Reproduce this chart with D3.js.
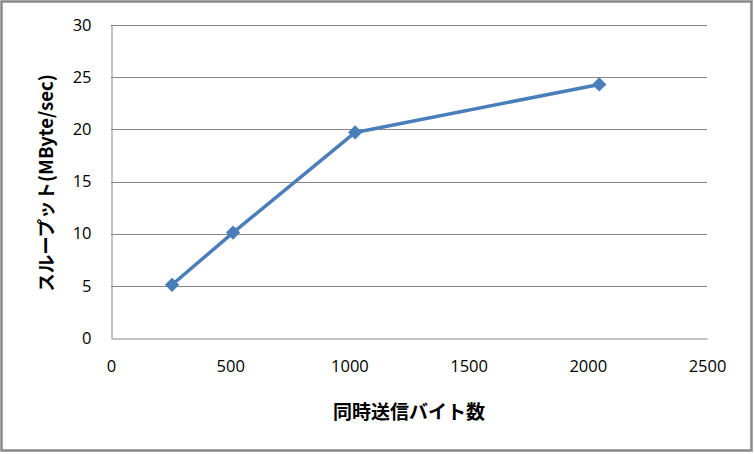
<!DOCTYPE html>
<html><head><meta charset="utf-8">
<script src="https://cdn.jsdelivr.net/npm/d3@7"></script>
<style>body{margin:0;background:#fff}svg{display:block}</style>
</head><body>
<script>
const xValues = [256, 512, 1024, 2048];
const yValues = [5.1, 10.1, 19.7, 24.3];
const xTicks = [0, 500, 1000, 1500, 2000, 2500];
const yTicks = [0, 5, 10, 15, 20, 25, 30];
const xTitle = "同時送信バイト数";
const yTitle = "スループット(MByte/sec)";

const W = 754, H = 454;
const m = {left: 111, right: 47, top: 25, bottom: 116};
const svg = d3.select("body").append("svg").attr("width", W).attr("height", H);
svg.append("rect").attr("x", 1.5).attr("y", 1.5).attr("width", 750).attr("height", 449)
  .attr("fill", "#fff").attr("stroke", "#888").attr("stroke-width", 2.5);

const x = d3.scaleLinear().domain([0, 2500]).range([m.left, W - m.right]);
const y = d3.scaleLinear().domain([0, 30]).range([H - m.bottom, m.top]);
const font = "'Open Sans', 'Noto Sans', sans-serif";

// gridlines
svg.append("g").selectAll("line").data(yTicks.filter(d => d > 0)).join("line")
  .attr("x1", x(0)).attr("x2", x(2500))
  .attr("y1", d => Math.round(y(d)) + 0.5).attr("y2", d => Math.round(y(d)) + 0.5)
  .attr("stroke", "#868686").attr("stroke-width", 1);

// axes
const yAxis = svg.append("g").attr("transform", `translate(${x(0)+0.5},0)`)
  .call(d3.axisLeft(y).tickValues(yTicks).tickFormat(d3.format("d")).tickSize(0).tickPadding(20));
const xAxis = svg.append("g").attr("transform", `translate(0,${Math.round(y(0))+0.5})`)
  .call(d3.axisBottom(x).tickValues(xTicks).tickFormat(d3.format("d")).tickSize(0).tickPadding(22));
[yAxis, xAxis].forEach(a => {
  a.select(".domain").attr("stroke", "#868686");
  a.selectAll("text").attr("font-family", font).attr("font-size", 16.5).attr("fill", "#000");
});

// line
const pts = xValues.map((v, i) => [v, yValues[i]]);
svg.append("path").datum(pts)
  .attr("d", d3.line().x(d => x(d[0])).y(d => y(d[1])))
  .attr("fill", "none").attr("stroke", "#4a7ebb").attr("stroke-width", 3.5).attr("stroke-linejoin", "round");
svg.append("g").selectAll("path").data(pts).join("path")
  .attr("d", d3.symbol().type(d3.symbolDiamond2).size(130))
  .attr("transform", d => `translate(${x(d[0])},${y(d[1])})`)
  .attr("fill", "#4a7ebb");

// titles
const cjk = "'Noto Sans CJK JP', sans-serif";
svg.append("text").attr("x", 409).attr("y", 419).attr("text-anchor", "middle")
  .attr("font-family", cjk).attr("font-weight", "bold").attr("font-size", 19).text(xTitle);
svg.append("text").attr("transform", "translate(53,183) rotate(-90)").attr("text-anchor", "middle")
  .attr("font-family", cjk).attr("font-weight", "bold").attr("font-size", 18.5).text(yTitle);
</script>
</body></html>
